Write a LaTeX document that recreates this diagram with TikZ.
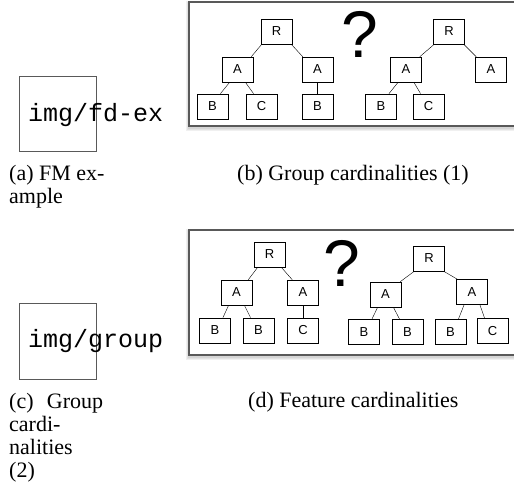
\documentclass[tikz,border=0pt]{standalone}
\usepackage{fontspec}
\setmainfont{Liberation Serif}
\newfontfamily\helv{Liberation Sans}
\newfontfamily\cour{Liberation Mono}
\usetikzlibrary{calc}

\tikzset{
  fm/.style={draw, line width=0.7pt, minimum width=31pt, minimum height=25pt,
    inner sep=0pt, font=\helv\fontsize{13}{15}\selectfont},
  panel/.style={draw=black!65, line width=1.2pt, fill=white},
  halo/.style={fill=black, opacity=0.06},
  missing/.style={draw=black!65, line width=0.9pt},
  imgpath/.style={anchor=base west, inner sep=0pt, font=\cour\fontsize{25}{27}\selectfont},
  captxt/.style={anchor=base west, inner sep=0pt, font=\fontsize{22}{23}\selectfont},
  quest/.style={anchor=base, inner sep=0pt, font=\helv\fontsize{66}{70}\selectfont}
}

\begin{document}
\begin{tikzpicture}[x=1pt,y=-1pt]
  \useasboundingbox (0,0) rectangle (514,486);

  % (a) and (c): missing pictures
  \draw[missing] (19,76) rectangle (96,151);
  \begin{scope}
    \clip (0,60) rectangle (167,170);
    \node[imgpath] (imga) at (28,122) {img/fd-ex};
  \end{scope}
  \draw[missing] (19,303) rectangle (96,379);
  \begin{scope}
    \clip (0,290) rectangle (167,395);
    \node[imgpath] (imgc) at (28,348) {img/group};
  \end{scope}

  % (b) group cardinalities (1)
  \foreach \k in {1,2,3} {
    \fill[halo] (189-\k,2-\k+2) rectangle (530,126+\k+2);
  }
  \draw[panel] (189,2) rectangle (530,126);
  \node[fm] (R1) at (276.5,31.5) {R};
  \node[fm] (A1) at (237.5,69.5) {A};
  \node[fm] (A2) at (317.5,69.5) {A};
  \node[fm] (B1) at (212.5,106.5) {B};
  \node[fm] (C1) at (261.5,106.5) {C};
  \node[fm] (B2) at (317.5,106.5) {B};
  \node[quest] (q1) at (360,58) {?};
  \node[fm] (R2) at (449,31.5) {R};
  \node[fm] (A3) at (406,69.5) {A};
  \node[fm] (A4) at (491,69.5) {A};
  \node[fm] (B3) at (381,106.5) {B};
  \node[fm] (C2) at (428.5,106.5) {C};
  \draw ([xshift=1pt]R1.south west) -- ([xshift=-2pt]A1.north east);
  \draw ([xshift=-1pt]R1.south east) -- ([xshift=1pt]A2.north west);
  \draw ($(A1.south)!.5!(A1.south west)$) -- ($(B1.north)!.5!(B1.north east)$);
  \draw ($(A1.south)!.5!(A1.south east)$) -- ($(C1.north)!.5!(C1.north west)$);
  \draw (A2) -- (B2);
  \draw ([xshift=1pt]R2.south west) -- ([xshift=-2pt]A3.north east);
  \draw ([xshift=-1pt]R2.south east) -- ([xshift=1pt]A4.north west);
  \draw ($(A3.south)!.5!(A3.south west)$) -- ($(B3.north)!.5!(B3.north east)$);
  \draw ($(A3.south)!.5!(A3.south east)$) -- ($(C2.north)!.5!(C2.north west)$);

  % (d) feature cardinalities
  \foreach \k in {1,2,3} {
    \fill[halo] (189-\k,230-\k+2) rectangle (530,355+\k+2);
  }
  \draw[panel] (189,230) rectangle (530,355);
  \node[fm] (R3) at (269.5,254.5) {R};
  \node[fm] (A5) at (236.5,292.5) {A};
  \node[fm] (A6) at (303,292.5) {A};
  \node[fm] (B4) at (215,330.5) {B};
  \node[fm] (B5) at (258.5,330.5) {B};
  \node[fm] (C3) at (303,330.5) {C};
  \node[quest] (q2) at (342,287) {?};
  \node[fm] (R4) at (429,258.5) {R};
  \node[fm] (A7) at (385.5,294.5) {A};
  \node[fm] (A8) at (472,292) {A};
  \node[fm] (B6) at (364,332) {B};
  \node[fm] (B7) at (407.5,332) {B};
  \node[fm] (B8) at (450.5,332) {B};
  \node[fm] (C4) at (492.5,331) {C};
  \draw ([xshift=4pt]R3.south west) -- ([xshift=-4pt]A5.north east);
  \draw ([xshift=-4pt]R3.south east) -- ([xshift=5pt]A6.north west);
  \draw ($(A5.south)!.5!(A5.south west)$) -- ($(B4.north)!.5!(B4.north east)$);
  \draw ($(A5.south)!.5!(A5.south east)$) -- ($(B5.north)!.5!(B5.north west)$);
  \draw (A6) -- (C3);
  \draw ([xshift=1pt]R4.south west) -- ([xshift=-1pt]A7.north east);
  \draw ([xshift=-1pt]R4.south east) -- ([xshift=1pt]A8.north west);
  \draw ($(A7.south)!.5!(A7.south west)$) -- ($(B6.north)!.5!(B6.north east)$);
  \draw ($(A7.south)!.5!(A7.south east)$) -- ($(B7.north)!.5!(B7.north west)$);
  \draw ($(A8.south)!.5!(A8.south west)$) -- ($(B8.north)!.5!(B8.north east)$);
  \draw ($(A8.south)!.5!(A8.south east)$) -- ($(C4.north)!.5!(C4.north west)$);

  % captions
  \node[captxt] (capa) at (9,181) {(a) FM ex-};
  \node[captxt] (capa2) at (9,204) {ample};
  \node[captxt] (capb) at (237,181) {(b) Group cardinalities (1)};
  \node[captxt, text width=94pt] (capc) at (9,408) {(c)\hfill Group};
  \node[captxt] (capc2) at (9,431) {cardi-};
  \node[captxt] (capc3) at (9,454) {nalities};
  \node[captxt] (capc4) at (9,477) {(2)};
  \node[captxt] (capd) at (248,407) {(d) Feature cardinalities};
\end{tikzpicture}
\end{document}
